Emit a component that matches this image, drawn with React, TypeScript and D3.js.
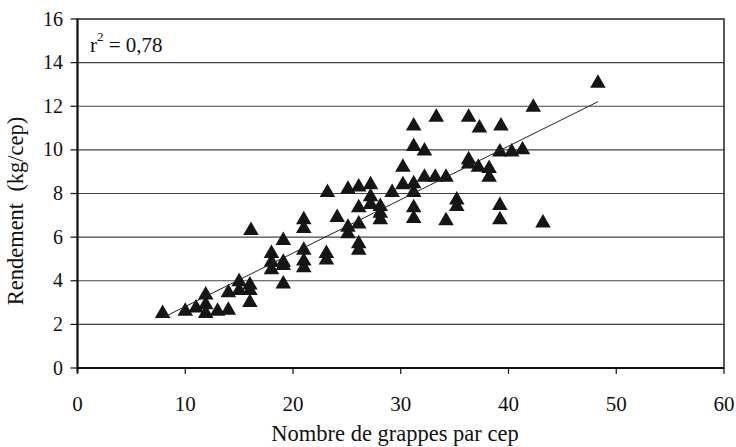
import * as d3 from 'd3';
import { useEffect, useRef } from 'react';

// grappes par cep (x) et rendement kg/cep (y)
const grappes = [
  7.9, 10.0, 11.0, 11.9, 11.9, 11.9, 13.0, 14.0, 14.0, 15.0, 15.0, 16.0, 16.0, 16.0, 16.1,
  18.0, 18.0, 18.0, 19.1, 19.1, 19.1, 19.1, 21.0, 21.0, 21.0, 21.0, 21.0,
  23.2, 23.1, 23.1, 24.1, 25.1, 25.1, 25.1, 26.1, 26.1, 26.1, 26.1, 26.1,
  27.2, 27.2, 27.2, 28.1, 28.1, 28.1, 29.2, 30.2, 30.2,
  31.2, 31.2, 31.2, 31.2, 31.2, 31.2, 32.2, 32.2, 33.3, 33.2, 34.2, 34.2, 35.2, 35.2,
  36.3, 36.3, 36.3, 37.3, 37.2, 38.2, 38.2, 39.3, 39.2, 39.2, 39.2, 40.3, 41.3, 42.3, 43.2, 48.3,
];
const rendement = [
  2.5, 2.6, 2.75, 3.35, 2.9, 2.5, 2.6, 2.65, 3.45, 3.95, 3.55, 3.8, 3.55, 3.0, 6.3,
  5.25, 4.85, 4.5, 5.85, 4.85, 4.7, 3.85, 6.8, 6.4, 5.4, 4.9, 4.6,
  8.05, 5.25, 4.95, 6.9, 8.2, 6.45, 6.15, 8.3, 7.35, 6.6, 5.7, 5.4,
  8.4, 7.85, 7.5, 7.4, 7.1, 6.8, 8.05, 9.2, 8.4,
  11.1, 10.15, 8.45, 8.05, 7.35, 6.85, 9.95, 8.75, 11.5, 8.75, 8.75, 6.75, 7.7, 7.4,
  11.5, 9.55, 9.35, 11.0, 9.2, 9.15, 8.75, 11.1, 9.9, 7.45, 6.8, 9.9, 10.0, 11.95, 6.65, 13.05,
];
const xTicks = [0, 10, 20, 30, 40, 50, 60];
const yTicks = [0, 2, 4, 6, 8, 10, 12, 14, 16];
const r2Label = '0,78';

export default function App() {
  const ref = useRef<SVGSVGElement | null>(null);
  useEffect(() => {
    if (!ref.current) return;
    const svg = d3.select(ref.current);
    svg.selectAll('*').remove();
    const font = "'Liberation Serif', 'Times New Roman', Times, serif";
    const left = 77.5, right = 724, top = 19, bottom = 368;

    const x = d3.scaleLinear().domain([0, 60]).range([left, right]);
    const y = d3.scaleLinear().domain([0, 16]).range([bottom, top]);

    svg.append('rect').attr('width', 736).attr('height', 447).attr('fill', '#fff');

    // grid
    svg
      .append('g')
      .selectAll('line')
      .data(yTicks.filter((t) => t > 0 && t < 16))
      .join('line')
      .attr('x1', left)
      .attr('x2', right)
      .attr('y1', (d) => y(d))
      .attr('y2', (d) => y(d))
      .attr('stroke', '#444')
      .attr('stroke-width', 1.2);

    svg
      .append('rect')
      .attr('x', left)
      .attr('y', top)
      .attr('width', right - left)
      .attr('height', bottom - top)
      .attr('fill', 'none')
      .attr('stroke', '#222')
      .attr('stroke-width', 1.5);
    svg.append('line').attr('x1', left).attr('x2', left).attr('y1', top).attr('y2', bottom + 5).attr('stroke', '#111').attr('stroke-width', 2);
    svg.append('line').attr('x1', left).attr('x2', right).attr('y1', bottom).attr('y2', bottom).attr('stroke', '#111').attr('stroke-width', 2);

    // ticks
    const yAxis = svg.append('g');
    yAxis
      .selectAll('line')
      .data(yTicks)
      .join('line')
      .attr('x1', left - 7)
      .attr('x2', left)
      .attr('y1', (d) => y(d))
      .attr('y2', (d) => y(d))
      .attr('stroke', '#111')
      .attr('stroke-width', 1.2);
    yAxis
      .selectAll('text')
      .data(yTicks)
      .join('text')
      .attr('x', 63)
      .attr('y', (d) => y(d))
      .attr('dy', '0.33em')
      .attr('text-anchor', 'end')
      .style('font-family', font)
      .style('font-size', '20px')
      .attr('fill', '#111')
      .text((d) => d);

    const xAxis = svg.append('g');
    xAxis
      .selectAll('line')
      .data(xTicks)
      .join('line')
      .attr('x1', (d) => x(d))
      .attr('x2', (d) => x(d))
      .attr('y1', bottom)
      .attr('y2', bottom + 6)
      .attr('stroke', '#111')
      .attr('stroke-width', 1.2);
    xAxis
      .selectAll('text')
      .data(xTicks)
      .join('text')
      .attr('x', (d) => x(d))
      .attr('y', 411)
      .attr('text-anchor', 'middle')
      .style('font-family', font)
      .style('font-size', '21px')
      .attr('fill', '#111')
      .text((d) => d);

    svg
      .append('text')
      .attr('x', 395)
      .attr('y', 441)
      .attr('text-anchor', 'middle')
      .style('font-family', font)
      .style('font-size', '22.5px')
      .attr('fill', '#111')
      .text('Nombre de grappes par cep');

    svg
      .append('text')
      .attr('transform', 'translate(23,211) rotate(-90)')
      .attr('text-anchor', 'middle')
      .style('font-family', font)
      .style('font-size', '22.5px')
      .style('white-space', 'pre')
      .attr('fill', '#111')
      .text('Rendement  (kg/cep)');

    const r2 = svg
      .append('text')
      .attr('x', 90)
      .attr('y', 52)
      .style('font-family', font)
      .style('font-size', '21px')
      .attr('fill', '#111');
    r2.append('tspan').text('r');
    r2.append('tspan').style('font-size', '13px').attr('dy', -11).text('2');
    r2.append('tspan').attr('dy', 11).text(` = ${r2Label}`);

    // points
    const pts = grappes.map((g, i) => [g, rendement[i]] as [number, number]);
    const tri = d3.symbol(d3.symbolTriangle, 105);
    svg
      .append('g')
      .selectAll('path')
      .data(pts)
      .join('path')
      .attr('d', tri() || '')
      .attr('transform', (d) => `translate(${x(d[0])},${y(d[1])})`)
      .attr('fill', '#151515');

    // droite de régression (moindres carrés)
    const mx = d3.mean(grappes) || 0;
    const my = d3.mean(rendement) || 0;
    const sxy = d3.sum(pts, (d) => (d[0] - mx) * (d[1] - my));
    const sxx = d3.sum(grappes, (g) => (g - mx) * (g - mx));
    const slope = sxy / sxx;
    const icpt = my - slope * mx;
    const [x0, x1] = d3.extent(grappes) as [number, number];
    const line = d3
      .line<number>()
      .x((d) => x(d))
      .y((d) => y(slope * d + icpt));
    svg
      .append('path')
      .attr('d', line([x0, x1]) || '')
      .attr('fill', 'none')
      .attr('stroke', '#222')
      .attr('stroke-width', 1);
  }, []);

  return (
    <svg
      ref={ref}
      width={736}
      height={447}
      style={{ position: 'absolute', left: 0, top: 0, display: 'block' }}
    />
  );
}
